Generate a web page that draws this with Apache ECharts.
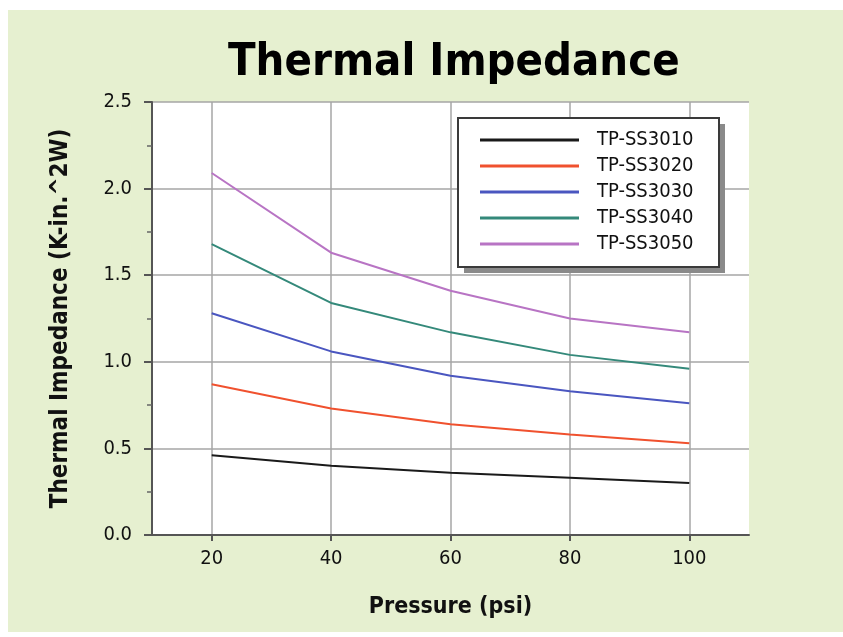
<!DOCTYPE html>
<html><head><meta charset="utf-8">
<script src="https://cdn.jsdelivr.net/npm/echarts@6/dist/echarts.min.js"></script>
<style>html,body{margin:0;padding:0;background:#fff}#c{width:843px;height:637px}</style>
</head><body><div id="c"></div>
<script>
const pressure = [20, 40, 60, 80, 100];
const xTicks = [20, 40, 60, 80, 100];
const seriesNames = ['TP-SS3010', 'TP-SS3020', 'TP-SS3030', 'TP-SS3040', 'TP-SS3050'];
const tp3010 = [0.46, 0.40, 0.36, 0.33, 0.30];
const tp3020 = [0.87, 0.73, 0.64, 0.58, 0.53];
const tp3030 = [1.28, 1.06, 0.92, 0.83, 0.76];
const tp3040 = [1.68, 1.34, 1.17, 1.04, 0.96];
const tp3050 = [2.09, 1.63, 1.41, 1.25, 1.17];
const colors = ['#1a1a1a', '#f0512e', '#4a56c0', '#34897a', '#b874c4'];

const allData = [tp3010, tp3020, tp3030, tp3040, tp3050];
const narrow = '"DejaVu Sans Condensed", "Liberation Sans", sans-serif';

const chart = echarts.init(document.getElementById('c'), null, {renderer: 'canvas'});
chart.setOption({
  animation: false,
  backgroundColor: '#ffffff',
  graphic: [
    {type: 'rect', z: -10, silent: true,
     shape: {x: 8, y: 10, width: 835, height: 622},
     style: {fill: '#e6f0d0'}},
    {type: 'rect', z: 5, silent: true,
     shape: {x: 464, y: 124, width: 261, height: 149},
     style: {fill: '#8a8a8a'}},
    {type: 'rect', z: 6, silent: true,
     shape: {x: 458, y: 118, width: 261, height: 149},
     style: {fill: '#ffffff', stroke: '#3a3a3a', lineWidth: 2}}
  ],
  title: {
    text: 'Thermal Impedance',
    left: 223, top: 36,
    textStyle: {fontFamily: '"DejaVu Sans Condensed", "DejaVu Sans", sans-serif', fontWeight: 'bold', fontSize: 45, color: '#000'}
  },
  grid: {
    left: 152, right: 94, top: 102, bottom: 102,
    show: true, backgroundColor: '#ffffff', borderWidth: 0
  },
  legend: {
    orient: 'vertical',
    left: 458, top: 118, z: 10,
    data: seriesNames,
    icon: 'rect',
    itemWidth: 99, itemHeight: 3, itemGap: 6,
    padding: [12, 18, 12, 22],
    textStyle: {fontFamily: narrow, fontSize: 20, color: '#111', lineHeight: 20, padding: [0, 0, 0, 13]}
  },
  xAxis: {
    type: 'value', min: 10, max: 110,
    name: 'Pressure (psi)', nameLocation: 'middle', nameGap: 61,
    nameTextStyle: {fontFamily: narrow, fontSize: 23, fontWeight: 'bold', color: '#111'},
    axisLine: {show: true, onZero: false, lineStyle: {color: '#555', width: 2}},
    axisTick: {show: true, customValues: xTicks, length: 6, lineStyle: {color: '#555', width: 2}},
    axisLabel: {customValues: xTicks, fontFamily: narrow, fontSize: 20, color: '#111', margin: 14},
    splitLine: {show: true, lineStyle: {color: '#a6a6a6', width: 1.5}}
  },
  yAxis: {
    type: 'value', min: 0, max: 2.5, interval: 0.5,
    name: 'Thermal Impedance (K-in.^2W)', nameLocation: 'middle', nameGap: 79,
    nameTextStyle: {fontFamily: narrow, fontSize: 24, fontWeight: 'bold', color: '#111'},
    axisLine: {show: true, lineStyle: {color: '#555', width: 2}},
    axisTick: {show: true, length: 8, lineStyle: {color: '#555', width: 2}},
    minorTick: {show: true, splitNumber: 2, length: 5, lineStyle: {color: '#666', width: 1.5}},
    axisLabel: {fontFamily: narrow, fontSize: 20, color: '#111', margin: 20,
      formatter: v => v.toFixed(1)},
    splitLine: {show: true, lineStyle: {color: '#a6a6a6', width: 1.5}}
  },
  series: seriesNames.map((n, i) => ({
    name: n, type: 'line',
    data: pressure.map((p, j) => [p, allData[i][j]]),
    symbol: 'none',
    lineStyle: {color: colors[i], width: 2},
    itemStyle: {color: colors[i]}
  }))
});
</script></body></html>
